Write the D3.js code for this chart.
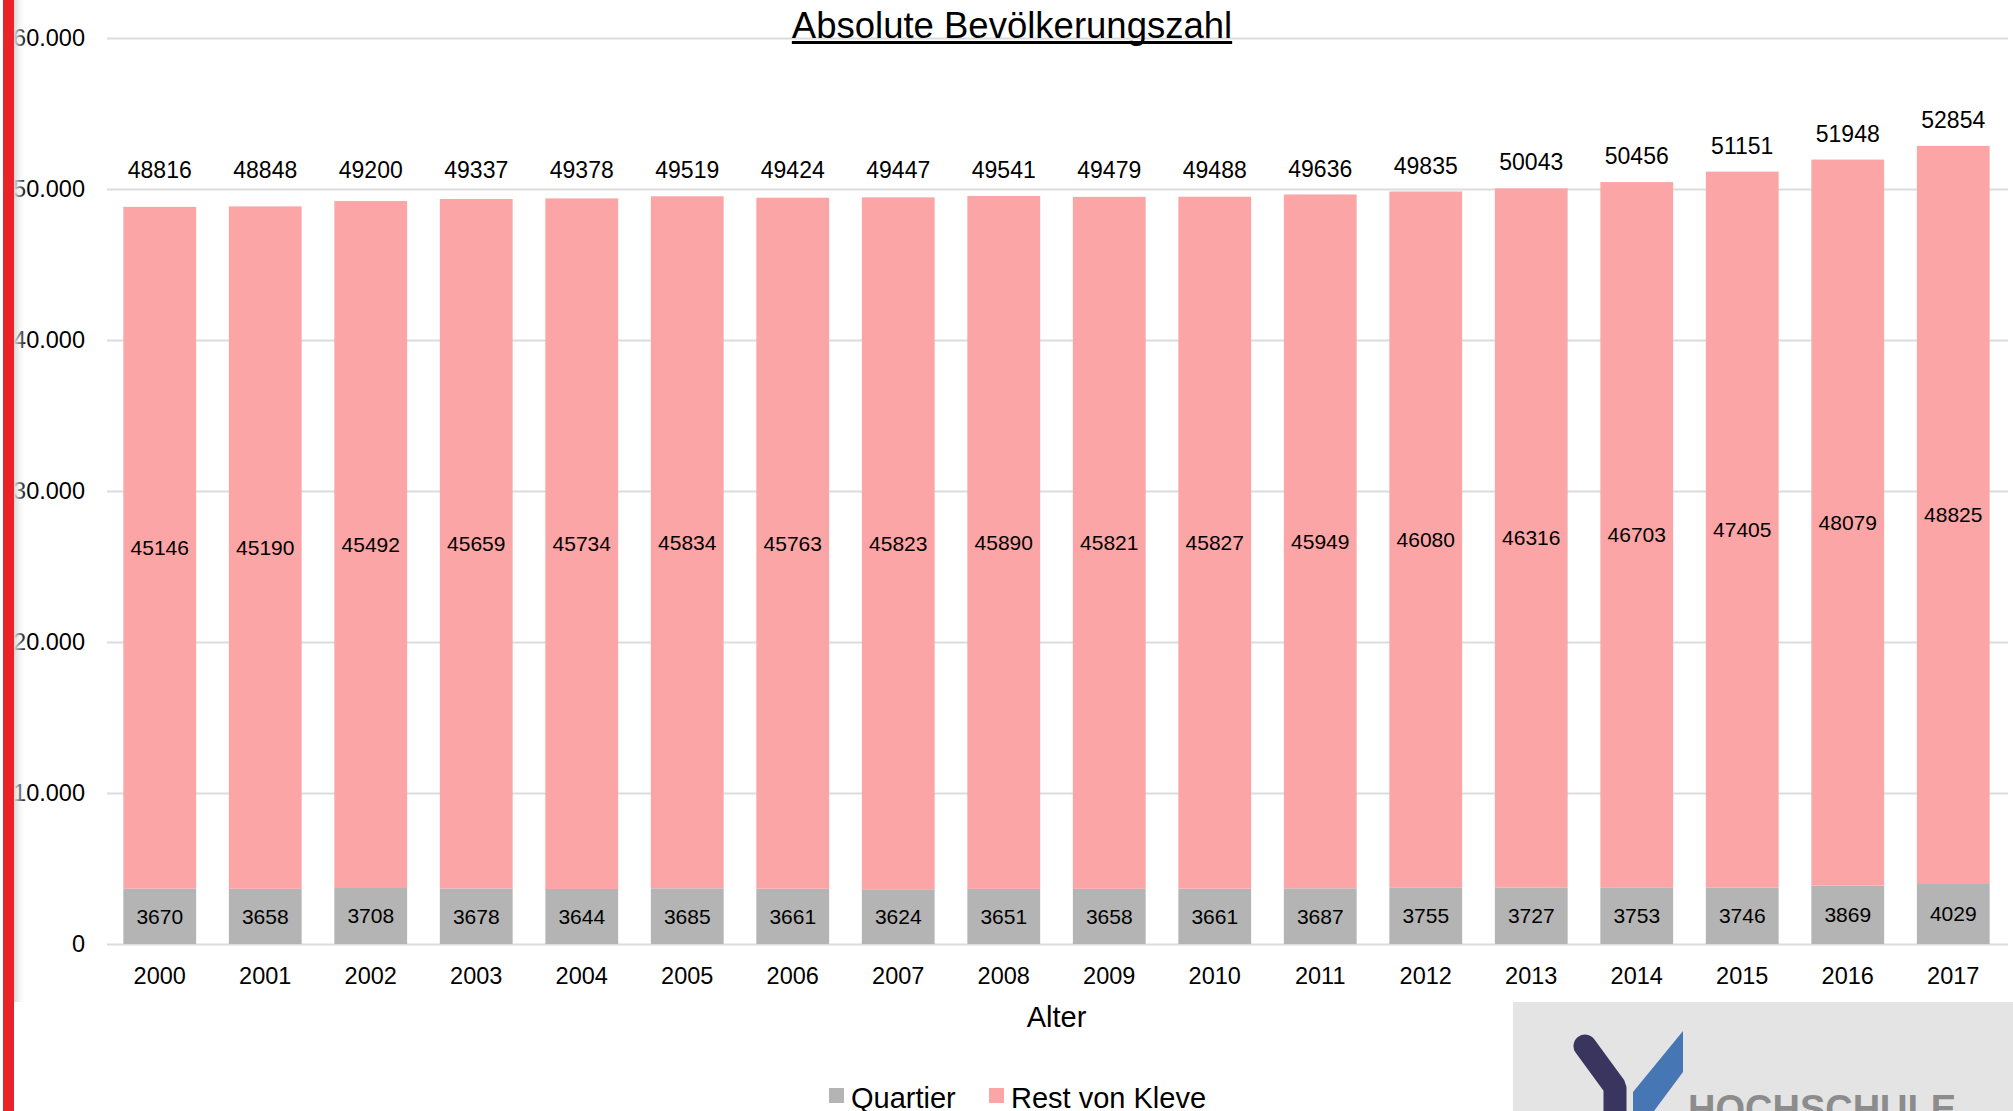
<!DOCTYPE html>
<html>
<head>
<meta charset="utf-8">
<script src="https://cdn.jsdelivr.net/npm/d3@7"></script>
<style>
  html, body { margin: 0; padding: 0; background: #fff; overflow: hidden; }
  text { font-family: "Liberation Sans", Arial, sans-serif; }
</style>
</head>
<body>
<div id="chart"></div>
<script>
// data
var years = ["2000", "2001", "2002", "2003", "2004", "2005", "2006", "2007", "2008",
             "2009", "2010", "2011", "2012", "2013", "2014", "2015", "2016", "2017"];
var quartier = [3670, 3658, 3708, 3678, 3644, 3685, 3661, 3624, 3651,
                3658, 3661, 3687, 3755, 3727, 3753, 3746, 3869, 4029];
var restVonKleve = [45146, 45190, 45492, 45659, 45734, 45834, 45763, 45823, 45890,
                    45821, 45827, 45949, 46080, 46316, 46703, 47405, 48079, 48825];
var yTicks = [0, 10000, 20000, 30000, 40000, 50000, 60000];
var seriesNames = ["Quartier", "Rest von Kleve"];

function main() {
    var width = 2013, height = 1111;

    var svg = d3.select("#chart")
        .append("svg")
        .attr("width", width)
        .attr("height", height);

    // build table for the stack
    var data = years.map(function (y, i) {
        return { year: y, "Quartier": quartier[i], "Rest von Kleve": restVonKleve[i] };
    });
    var stacked = d3.stack().keys(seriesNames)(data);

    var x = d3.scaleBand()
        .domain(years)
        .range([107, 2006])
        .paddingInner(0.31)
        .paddingOuter(0.155);

    var y = d3.scaleLinear()
        .domain([0, 60000])
        .range([944, 38]);

    var color = d3.scaleOrdinal()
        .domain(seriesNames)
        .range(["#b4b4b4", "#fca5a6"]);

    var de = d3.formatLocale({ decimal: ",", thousands: ".", grouping: [3], currency: ["", " €"] });
    var fmt = de.format(",d");

    // gridlines + y labels
    var yAxis = svg.append("g")
        .attr("transform", "translate(107,0)")
        .call(d3.axisLeft(y).tickValues(yTicks).tickFormat(fmt)
            .tickSize(-(2008 - 107)).tickPadding(22));
    yAxis.select(".domain").remove();
    yAxis.selectAll(".tick line").attr("stroke", "#dcdcdc").attr("stroke-width", 2);
    yAxis.selectAll(".tick text")
        .attr("fill", "#000")
        .style("font-size", "23.5px")
        .style("font-family", "'Liberation Sans', Arial, sans-serif");

    // bars
    svg.append("g")
        .selectAll("g")
        .data(stacked)
        .enter()
        .append("g")
        .attr("fill", function (d) { return color(d.key); })
        .selectAll("rect")
        .data(function (d) { return d; })
        .enter()
        .append("rect")
        .attr("x", function (d) { return x(d.data.year); })
        .attr("y", function (d) { return y(d[1]); })
        .attr("width", x.bandwidth())
        .attr("height", function (d) { return y(d[0]) - y(d[1]); });

    // labels inside segments
    svg.append("g")
        .selectAll("g")
        .data(stacked)
        .enter()
        .append("g")
        .selectAll("text")
        .data(function (d) { return d; })
        .enter()
        .append("text")
        .attr("x", function (d) { return x(d.data.year) + x.bandwidth() / 2; })
        .attr("y", function (d) { return (y(d[0]) + y(d[1])) / 2; })
        .attr("text-anchor", "middle")
        .attr("dy", "0.35em")
        .style("font-size", "21px")
        .attr("fill", "#000")
        .text(function (d) { return d[1] - d[0]; });

    // totals above bars
    svg.append("g")
        .selectAll("text")
        .data(data)
        .enter()
        .append("text")
        .attr("x", function (d) { return x(d.year) + x.bandwidth() / 2; })
        .attr("y", function (d) {
            var t = d["Quartier"] + d["Rest von Kleve"];
            return Math.min(y(t) - 26, 170);
        })
        .attr("text-anchor", "middle")
        .attr("dy", "0.35em")
        .style("font-size", "23px")
        .attr("fill", "#000")
        .text(function (d) { return d["Quartier"] + d["Rest von Kleve"]; });

    // x axis labels
    var xAxis = svg.append("g")
        .attr("transform", "translate(0,944)")
        .call(d3.axisBottom(x).tickSize(0).tickPadding(23));
    xAxis.select(".domain").remove();
    xAxis.selectAll(".tick text")
        .attr("fill", "#000")
        .style("font-size", "23.5px")
        .style("font-family", "'Liberation Sans', Arial, sans-serif");

    // axis title
    svg.append("text")
        .attr("x", (107 + 2006) / 2)
        .attr("y", 1027)
        .attr("text-anchor", "middle")
        .style("font-size", "29px")
        .text("Alter");

    // chart title with underline
    var title = svg.append("text")
        .attr("x", 1012)
        .attr("y", 38)
        .attr("text-anchor", "middle")
        .style("font-size", "36.5px")
        .attr("fill", "#000")
        .text("Absolute Bevölkerungszahl");
    var tw = title.node().getComputedTextLength();
    svg.append("rect")
        .attr("x", 1012 - tw / 2)
        .attr("y", 41)
        .attr("width", tw)
        .attr("height", 3)
        .attr("fill", "#000");

    // legend
    var legend = svg.append("g")
        .selectAll("g")
        .data(seriesNames)
        .enter()
        .append("g")
        .attr("transform", function (d, i) { return "translate(" + [829, 989][i] + ",0)"; });
    legend.append("rect")
        .attr("x", 0).attr("y", 1088)
        .attr("width", 15).attr("height", 15)
        .attr("fill", function (d) { return color(d); });
    legend.append("text")
        .attr("x", 22).attr("y", 1108)
        .style("font-size", "29px")
        .text(function (d) { return d; });

    // logo box in the lower right corner
    var logo = svg.append("g");
    logo.append("rect")
        .attr("x", 1513).attr("y", 1002)
        .attr("width", 500).attr("height", 109)
        .attr("fill", "#e4e4e4");
    logo.append("path")
        .attr("d", "M1585,1046 L1615,1087 L1615,1125")
        .attr("fill", "none")
        .attr("stroke", "#3a355f")
        .attr("stroke-width", 23)
        .attr("stroke-linecap", "round")
        .attr("stroke-linejoin", "bevel");
    logo.append("path")
        .attr("d", "M1633,1111 L1633,1092 L1683,1031 L1683,1072 L1654,1111 Z")
        .attr("fill", "#4776b4");
    logo.append("text")
        .attr("x", 1688).attr("y", 1122)
        .style("font-size", "38px")
        .style("font-weight", "bold")
        .attr("fill", "#8c8c8c")
        .text("HOCHSCHULE");

    // red strip on the left edge with a soft shadow
    var defs = svg.append("defs");
    var grad = defs.append("linearGradient").attr("id", "shade");
    grad.append("stop").attr("offset", "0%").attr("stop-color", "#d8d8d8");
    grad.append("stop").attr("offset", "100%").attr("stop-color", "#ffffff").attr("stop-opacity", 0);
    svg.append("rect")
        .attr("x", 14).attr("y", 0)
        .attr("width", 12).attr("height", 1002)
        .attr("fill", "url(#shade)");
    svg.append("rect")
        .attr("x", 3).attr("y", 0)
        .attr("width", 11).attr("height", height)
        .attr("fill", "#e92328");
}
window.addEventListener('load', main);
</script>
</body>
</html>
